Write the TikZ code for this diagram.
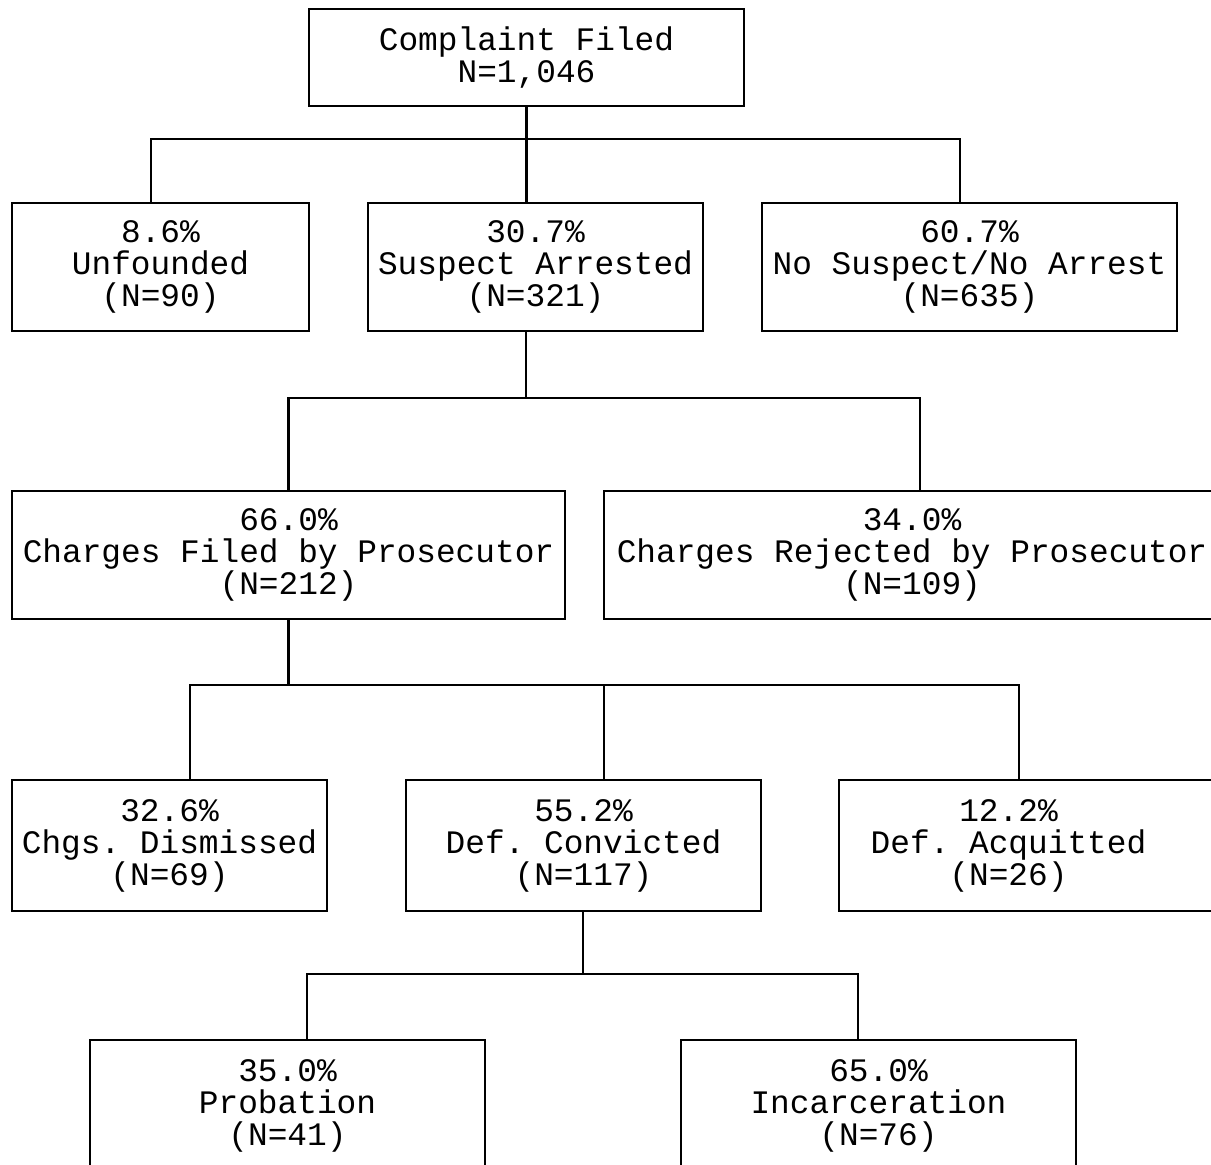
\documentclass[tikz,border=0pt]{standalone}
\usepackage{fontspec}
\setmonofont{Liberation Mono}
\usepackage{tikz}

\tikzset{
  stage/.style={draw, line width=1.1pt, inner sep=0pt, align=center,
    font=\ttfamily\fontsize{16.4}{16}\selectfont},
  rowa/.style={stage, minimum height=64pt},
  rowb/.style={stage, minimum height=65.5pt},
  link/.style={line width=1.1pt}
}

\begin{document}
\begin{tikzpicture}[x=0.5pt, y=-0.5pt]
\useasboundingbox (0,0) rectangle (1211,1165);
\clip (0,0) rectangle (1211,1165);
% complaint
\node[stage, minimum width=217.5pt, minimum height=48.5pt] (cf) at (526.5,57.5) {Complaint Filed\\N=1,046};
% police outcome
\node[rowa, minimum width=148.5pt] (unf) at (160.5,267) {8.6\%\\Unfounded\\(N=90)};
\node[rowa, minimum width=167.5pt] (arr) at (535.5,267) {30.7\%\\Suspect Arrested\\(N=321)};
\node[rowa, minimum width=207.5pt] (nsa) at (969.5,267) {60.7\%\\No Suspect/No Arrest\\(N=635)};
% prosecutor
\node[rowa, minimum width=276.5pt] (chf) at (288.5,555) {66.0\%\\Charges Filed by Prosecutor\\(N=212)};
\node[rowa, minimum width=316pt] (chr) at (920,555) {};
\node[stage, draw=none] (chrt) at (912,555) {34.0\%\\Charges Rejected by Prosecutor\\(N=109)};
% court
\node[rowb, minimum width=157.5pt] (dis) at (169.5,845.5) {32.6\%\\Chgs. Dismissed\\(N=69)};
\node[rowb, minimum width=177.5pt] (con) at (583.5,845.5) {55.2\%\\Def. Convicted\\(N=117)};
\node[rowb, minimum width=205.5pt] (acq) at (1044.5,845.5) {};
\node[stage, draw=none] (acqt) at (1008.5,845.5) {12.2\%\\Def. Acquitted\\(N=26)};
% sentence
\node[rowb, minimum width=197.5pt] (prb) at (287.5,1105.5) {35.0\%\\Probation\\(N=41)};
\node[rowb, minimum width=197.5pt] (inc) at (878.5,1105.5) {65.0\%\\Incarceration\\(N=76)};

% branches
\draw[link] (cf.south) -- ++(0,32) coordinate (bus1);
\draw[link] ([xshift=-4.75pt]unf.north) |- (bus1) -| ([xshift=-4.75pt]nsa.north);
\draw[link] (bus1) -- (bus1 |- arr.north);
\draw[link] ([xshift=-4.75pt]arr.south) -- ++(0,66) coordinate (bus2);
\draw[link] (chf.north) |- (bus2) -| (chr.north);
\draw[link] (chf.south) -- ++(0,65) coordinate (bus3);
\draw[link] ([xshift=10.25pt]dis.north) |- (bus3) -| ([xshift=-12.75pt]acq.north);
\draw[link] (bus3 -| 604,0) -- ([xshift=10.25pt]con.north);
\draw[link] ([xshift=-0.25pt]con.south) -- ++(0,62) coordinate (bus4);
\draw[link] ([xshift=9.75pt]prb.north) |- (bus4) -| ([xshift=-10.25pt]inc.north);
\end{tikzpicture}
\end{document}
